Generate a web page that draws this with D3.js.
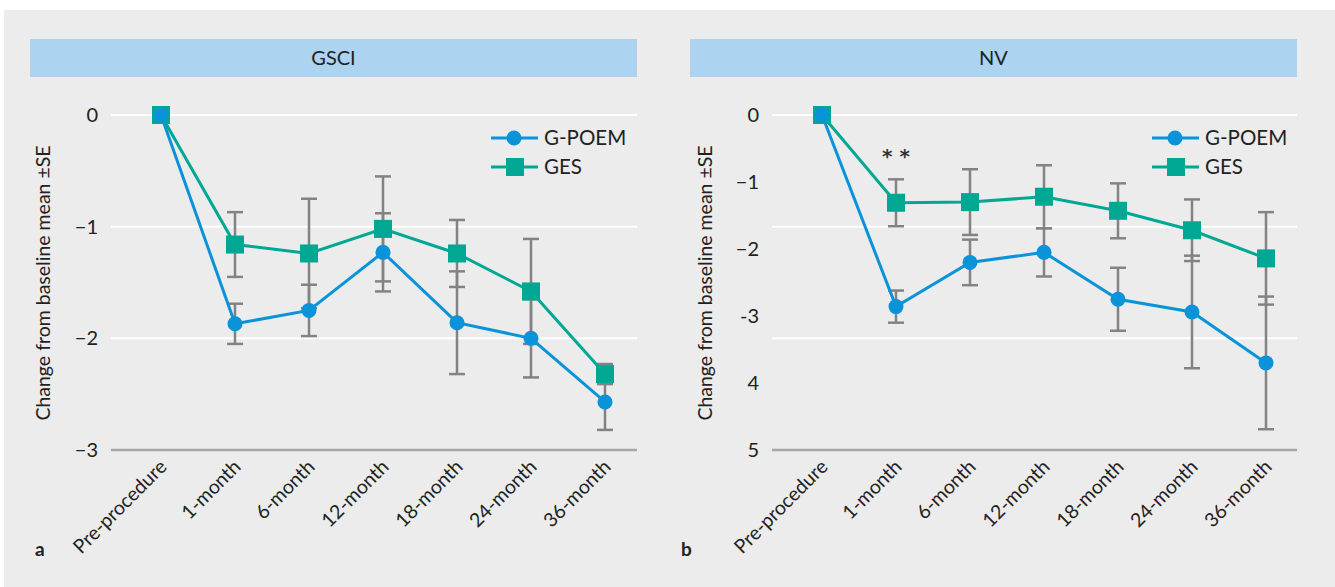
<!DOCTYPE html>
<html>
<head>
<meta charset="utf-8">
<script src="https://cdn.jsdelivr.net/npm/d3@7"></script>
<style>
  body { margin: 0; background: #fff; }
  svg { display: block; font-family: Lato, "Open Sans", sans-serif; }
</style>
</head>
<body>
<div id="chart"></div>
<script>
// time points
var timepoints = ["Pre-procedure", "1-month", "6-month", "12-month", "18-month", "24-month", "36-month"];

// GSCI panel: mean change and SE
var gsciPoem   = [0, -1.87, -1.75, -1.23, -1.86, -2.00, -2.57];
var gsciPoemSE = [0, 0.18, 0.23, 0.35, 0.46, 0.35, 0.25];
var gsciGes    = [0, -1.16, -1.24, -1.02, -1.24, -1.58, -2.32];
var gsciGesSE  = [0, 0.29, 0.49, 0.47, 0.30, 0.47, 0.09];

// NV panel
var nvPoem   = [0, -2.86, -2.20, -2.05, -2.75, -2.94, -3.70];
var nvPoemSE = [0, 0.24, 0.34, 0.36, 0.47, 0.84, 0.99];
var nvGes    = [0, -1.31, -1.30, -1.22, -1.43, -1.72, -2.14];
var nvGesSE  = [0, 0.35, 0.49, 0.47, 0.41, 0.46, 0.69];

var gsciTicks = [0, -1, -2, -3];
var gsciTickLabels = ["0", "\u22121", "\u22122", "\u22123"];
var nvTicks = [0, -1, -2, -3, -4, -5];
var nvTickLabels = ["0", "\u22121", "\u22122", "-3", "4", "5"];
var nvGrid = [0, -5 / 3, -10 / 3];

var blue = "#0a93d9";
var teal = "#00a894";
var grey = "#838383";

var W = 1335, H = 587;
var svg = d3.select("#chart").append("svg")
    .attr("width", W)
    .attr("height", H);

svg.append("rect")
    .attr("x", 4).attr("y", 10)
    .attr("width", W - 4).attr("height", H - 10)
    .style("fill", "#ebeceb");

function panel(opt) {
    var g = svg.append("g");

    // header strip
    g.append("rect")
        .attr("x", opt.headX0).attr("y", 39)
        .attr("width", opt.headX1 - opt.headX0).attr("height", 38)
        .style("fill", "#acd3ef");
    g.append("text")
        .attr("x", (opt.headX0 + opt.headX1) / 2)
        .attr("y", 65)
        .attr("text-anchor", "middle")
        .style("font-size", "20px")
        .style("fill", "#222")
        .text(opt.title);

    var x = d3.scalePoint()
        .domain(timepoints)
        .range([opt.x0, opt.x1]);
    var y = d3.scaleLinear()
        .domain(opt.domain)
        .range([115, 450]);

    // gridlines
    g.selectAll(".grid")
        .data(opt.grid)
        .enter().append("line")
        .attr("x1", opt.gridX0).attr("x2", opt.headX1)
        .attr("y1", function(d) { return y(d); })
        .attr("y2", function(d) { return y(d); })
        .style("stroke", "#fff")
        .style("stroke-width", 2);
    g.append("line")
        .attr("x1", opt.gridX0).attr("x2", opt.headX1)
        .attr("y1", y(opt.domain[1])).attr("y2", y(opt.domain[1]))
        .style("stroke", "#a5a6a6")
        .style("stroke-width", 2.5);

    // y tick labels
    g.selectAll(".ytick")
        .data(opt.ticks)
        .enter().append("text")
        .attr("x", opt.gridX0 - 13)
        .attr("y", function(d) { return y(d); })
        .attr("dy", "0.35em")
        .attr("text-anchor", "end")
        .style("font-size", "20px")
        .style("fill", "#222")
        .text(function(d, i) { return opt.tickLabels[i]; });

    // y label
    g.append("text")
        .attr("transform", "translate(" + opt.labelX + ",283) rotate(-90)")
        .attr("text-anchor", "middle")
        .attr("dy", "0.35em")
        .style("font-size", "19.5px")
        .style("fill", "#222")
        .text("Change from baseline mean \u00b1SE");

    // x tick labels
    g.selectAll(".xtick")
        .data(timepoints)
        .enter().append("text")
        .attr("transform", function(d) {
            return "translate(" + (x(d) + 7) + ",468) rotate(-45)";
        })
        .attr("text-anchor", "end")
        .style("font-size", "19.5px")
        .style("fill", "#222")
        .text(function(d) { return d; });

    // panel letter
    g.append("text")
        .attr("x", opt.letterX).attr("y", 556)
        .style("font-size", "19px")
        .style("font-weight", "bold")
        .style("fill", "#222")
        .text(opt.letter);

    var series = [
        { vals: opt.ges, se: opt.gesSE, color: teal, shape: "square" },
        { vals: opt.poem, se: opt.poemSE, color: blue, shape: "circle" }
    ];

    // error bars
    series.forEach(function(s) {
        var pts = timepoints.map(function(t, i) { return { t: t, v: s.vals[i], e: s.se[i] }; })
            .filter(function(d) { return d.e > 0; });
        var eb = g.append("g");
        eb.selectAll(".bar").data(pts).enter().append("line")
            .attr("x1", function(d) { return x(d.t); })
            .attr("x2", function(d) { return x(d.t); })
            .attr("y1", function(d) { return y(d.v + d.e); })
            .attr("y2", function(d) { return y(d.v - d.e); })
            .style("stroke", grey).style("stroke-width", 2.5);
        [1, -1].forEach(function(sgn) {
            eb.selectAll(".cap" + sgn).data(pts).enter().append("line")
                .attr("x1", function(d) { return x(d.t) - 8; })
                .attr("x2", function(d) { return x(d.t) + 8; })
                .attr("y1", function(d) { return y(d.v + sgn * d.e); })
                .attr("y2", function(d) { return y(d.v + sgn * d.e); })
                .style("stroke", grey).style("stroke-width", 2.5);
        });
    });

    var line = d3.line()
        .x(function(d, i) { return x(timepoints[i]); })
        .y(function(d) { return y(d); });

    series.forEach(function(s) {
        g.append("path")
            .datum(s.vals)
            .attr("d", line)
            .style("fill", "none")
            .style("stroke", s.color)
            .style("stroke-width", 3);
    });
    series.forEach(function(s) {
        var m = g.selectAll(".m" + s.shape).data(s.vals).enter();
        if (s.shape == "circle") {
            m.append("circle")
                .attr("cx", function(d, i) { return x(timepoints[i]); })
                .attr("cy", function(d) { return y(d); })
                .attr("r", 7.5)
                .style("fill", s.color);
        } else {
            m.append("rect")
                .attr("x", function(d, i) { return x(timepoints[i]) - 9; })
                .attr("y", function(d) { return y(d) - 9; })
                .attr("width", 18).attr("height", 18)
                .style("fill", s.color);
        }
    });

    // legend
    var lg = g.append("g").attr("transform", "translate(" + opt.legendX + ",0)");
    lg.append("line").attr("x1", 0).attr("x2", 47).attr("y1", 138).attr("y2", 138)
        .style("stroke", blue).style("stroke-width", 3);
    lg.append("circle").attr("cx", 23).attr("cy", 138).attr("r", 7.5).style("fill", blue);
    lg.append("line").attr("x1", 0).attr("x2", 47).attr("y1", 167).attr("y2", 167)
        .style("stroke", teal).style("stroke-width", 3);
    lg.append("rect").attr("x", 15).attr("y", 158).attr("width", 18).attr("height", 18).style("fill", teal);
    lg.append("text").attr("x", 53).attr("y", 138).attr("dy", "0.35em")
        .style("font-size", "20.5px").style("fill", "#222").text("G-POEM");
    lg.append("text").attr("x", 53).attr("y", 167).attr("dy", "0.35em")
        .style("font-size", "20.5px").style("fill", "#222").text("GES");

    return { g: g, x: x, y: y };
}

panel({
    title: "GSCI", letter: "a", letterX: 35,
    headX0: 30, headX1: 637, gridX0: 111,
    x0: 161, x1: 605, labelX: 43,
    domain: [0, -3], grid: [0, -1, -2],
    ticks: gsciTicks, tickLabels: gsciTickLabels,
    poem: gsciPoem, poemSE: gsciPoemSE, ges: gsciGes, gesSE: gsciGesSE,
    legendX: 491
});

var nv = panel({
    title: "NV", letter: "b", letterX: 681,
    headX0: 690, headX1: 1297, gridX0: 772,
    x0: 822, x1: 1266, labelX: 705,
    domain: [0, -5], grid: nvGrid,
    ticks: nvTicks, tickLabels: nvTickLabels,
    poem: nvPoem, poemSE: nvPoemSE, ges: nvGes, gesSE: nvGesSE,
    legendX: 1152
});

// significance marker at 1-month
nv.g.append("text")
    .attr("x", nv.x("1-month"))
    .attr("y", 163)
    .attr("text-anchor", "middle")
    .style("font-family", "'DejaVu Sans', sans-serif")
    .style("font-size", "20px")
    .style("font-weight", "bold")
    .style("fill", "#333")
    .text("* *");
</script>
</body>
</html>
